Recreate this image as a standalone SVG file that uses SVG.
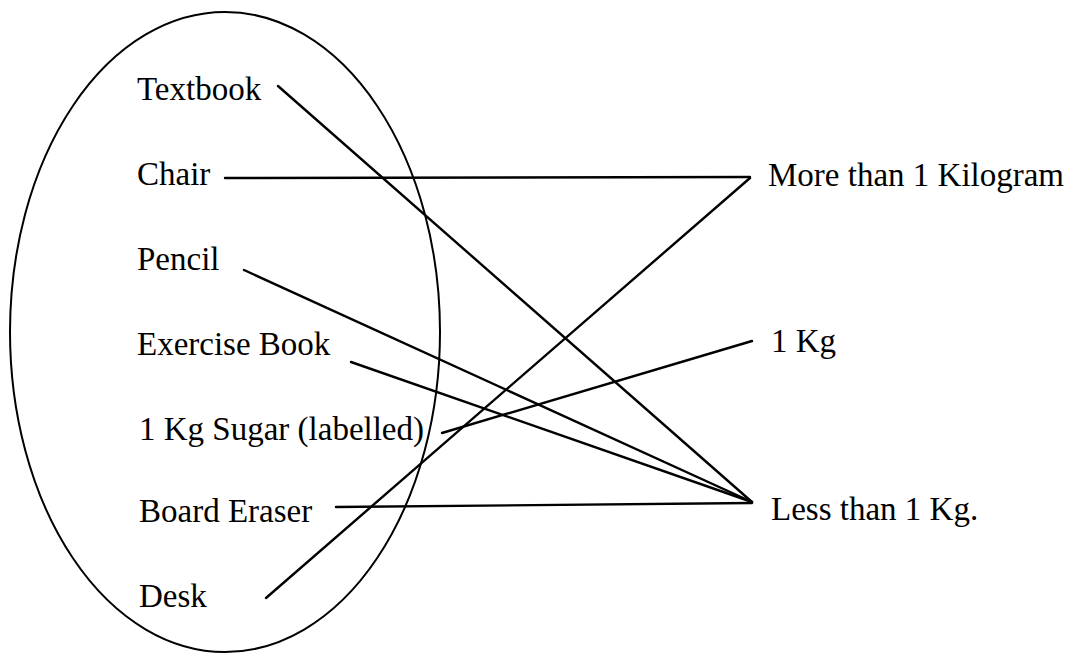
<svg xmlns="http://www.w3.org/2000/svg" width="1081" height="653" viewBox="0 0 1081 653">
<style>
text{font-family:"Liberation Serif","Times New Roman",serif;font-size:33px;fill:#000}
.c{stroke:#000;stroke-width:2.4;fill:none;stroke-linecap:round}
.set{stroke:#000;stroke-width:2;fill:none}
</style>
<rect width="1081" height="653" fill="#fff"/>
<g id="set"><ellipse class="set" cx="225" cy="332" rx="215" ry="320"/></g>
<g id="textbook"><text x="137" y="100">Textbook</text></g>
<g id="chair"><text x="137" y="185">Chair</text></g>
<g id="pencil"><text x="137" y="270">Pencil</text></g>
<g id="exercise-book"><text x="137" y="355">Exercise Book</text></g>
<g id="sugar"><text x="139" y="440">1 Kg Sugar (labelled)</text></g>
<g id="board-eraser"><text x="139" y="522">Board Eraser</text></g>
<g id="desk"><text x="139" y="607">Desk</text></g>
<g id="more"><text x="768" y="186">More than 1 Kilogram</text></g>
<g id="one-kg"><text x="771" y="352">1 Kg</text></g>
<g id="less"><text x="771" y="520">Less than 1 Kg.</text></g>
<g id="connectors">
<line class="c" x1="278" y1="86" x2="752" y2="502"/>
<line class="c" x1="225" y1="178" x2="750" y2="177"/>
<line class="c" x1="244" y1="270" x2="752" y2="502"/>
<line class="c" x1="351" y1="362" x2="752" y2="502"/>
<line class="c" x1="442" y1="433" x2="752" y2="341"/>
<line class="c" x1="336" y1="507" x2="752" y2="503"/>
<line class="c" x1="266" y1="598" x2="750" y2="178"/>
</g>
</svg>
